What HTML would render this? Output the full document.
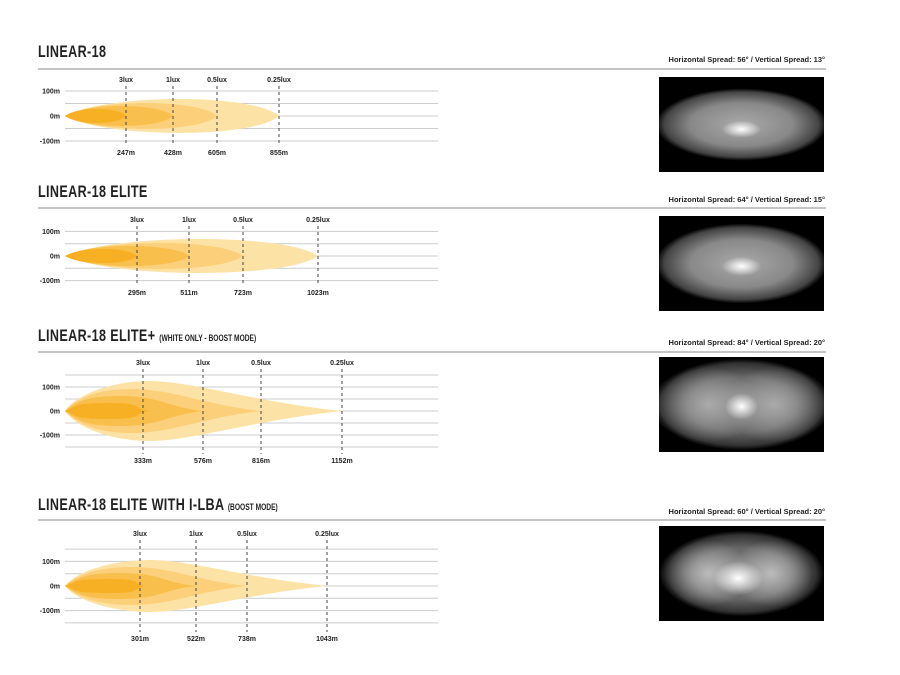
<!DOCTYPE html>
<html><head><meta charset="utf-8"><style>
body{margin:0;background:#fff;width:900px;height:675px;overflow:hidden;font-family:"Liberation Sans",sans-serif}
.t{position:absolute;left:38px;font-size:17px;font-weight:bold;color:#222;transform-origin:0 0;transform:scaleX(0.74);white-space:nowrap;letter-spacing:0.5px}
.t small{font-size:9px;font-weight:bold;letter-spacing:0}
.sp{position:absolute;right:75px;font-size:7.5px;font-weight:bold;color:#222;white-space:nowrap}
.im{position:absolute;left:659px;width:165px;height:95px;background:#000}
</style></head><body>
<svg id="s" width="900" height="675" style="position:absolute;left:0;top:0" font-family="Liberation Sans,sans-serif"></svg>
<div class="t" style="top:42px">LINEAR-18</div>
<div class="t" style="top:182px">LINEAR-18 ELITE</div>
<div class="t" style="top:326px">LINEAR-18 ELITE+ <small>(WHITE ONLY - BOOST MODE)</small></div>
<div class="t" style="top:495px">LINEAR-18 ELITE WITH I-LBA <small>(BOOST MODE)</small></div>
<div class="sp" style="top:55px">Horizontal Spread: 56° / Vertical Spread: 13°</div>
<div class="sp" style="top:195px">Horizontal Spread: 64° / Vertical Spread: 15°</div>
<div class="sp" style="top:338px">Horizontal Spread: 84° / Vertical Spread: 20°</div>
<div class="sp" style="top:507px">Horizontal Spread: 60° / Vertical Spread: 20°</div>
<div class="im" style="top:77px;background:radial-gradient(ellipse 12% 9% at 50% 55%,#fff,rgba(255,255,255,0) 100%),radial-gradient(ellipse 52% 38% at 50% 50%,#aaa 0%,#888 60%,#444 90%,#000 100%)"></div>
<div class="im" style="top:216px;background:radial-gradient(ellipse 12% 10% at 50% 53%,#fff,rgba(255,255,255,0) 100%),radial-gradient(ellipse 52% 42% at 50% 50%,#aaa 0%,#888 60%,#444 90%,#000 100%)"></div>
<div class="im" style="top:357px;background:radial-gradient(ellipse 10% 14% at 50% 52%,#fff,rgba(255,255,255,0) 100%),radial-gradient(ellipse 30% 40% at 30% 50%,#aaa,rgba(0,0,0,0) 100%),radial-gradient(ellipse 30% 40% at 70% 50%,#aaa,rgba(0,0,0,0) 100%),radial-gradient(ellipse 55% 48% at 50% 50%,#888 0%,#666 60%,#333 90%,#000 100%)"></div>
<div class="im" style="top:526px;background:radial-gradient(ellipse 15% 18% at 48% 55%,#fff,rgba(255,255,255,0) 100%),radial-gradient(ellipse 25% 35% at 30% 50%,#bbb,rgba(0,0,0,0) 100%),radial-gradient(ellipse 25% 35% at 68% 50%,#bbb,rgba(0,0,0,0) 100%),radial-gradient(ellipse 50% 45% at 50% 50%,#888 0%,#666 60%,#333 90%,#000 100%)"></div>
<script>
var s=document.getElementById('s'),h='';
var cols=['#fde2a6','#fcd07a','#f9bf4c','#f7b024'];
function line(x1,y1,x2,y2,c,w,d){h+='<line x1="'+x1+'" y1="'+y1+'" x2="'+x2+'" y2="'+y2+'" stroke="'+c+'" stroke-width="'+(w||1)+'"'+(d?' stroke-dasharray="'+d+'"':'')+'/>';}
function txt(x,y,t,a){h+='<text x="'+x+'" y="'+y+'" font-size="7" font-weight="bold" fill="#222" text-anchor="'+(a||'middle')+'">'+t+'</text>';}
function lens(x0,x1,cy,r,c){r=r*1.33;var L=x1-x0;h+='<path fill="'+c+'" d="M'+x0+','+cy+' C'+(x0+L*.2)+','+(cy-r)+' '+(x1-L*.12)+','+(cy-r)+' '+x1+','+cy+' C'+(x1-L*.12)+','+(cy+r)+' '+(x0+L*.2)+','+(cy+r)+' '+x0+','+cy+'Z"/>';}
function boost(x0,xp,x1,cy,r,c){
 var p='M'+x0+','+cy+' C'+(x0+12)+','+(cy-r*0.6)+' '+(xp-35)+','+(cy-r)+' '+xp+','+(cy-r)+' C'+(xp+40)+','+(cy-r)+' '+(x1-(x1-xp)*0.45)+','+(cy-r*0.3)+' '+x1+','+cy+
 ' C'+(x1-(x1-xp)*0.45)+','+(cy+r*0.3)+' '+(xp+40)+','+(cy+r)+' '+xp+','+(cy+r)+' C'+(xp-35)+','+(cy+r)+' '+(x0+12)+','+(cy+r*0.6)+' '+x0+','+cy+'Z';
 h+='<path fill="'+c+'" d="'+p+'"/>';}
function sec(cy,step,lines,luxY,xs,ds,distY,rule,kind){
 line(38,rule,826,rule,'#888',1);
 for(var i=-lines;i<=lines;i++)line(65,cy+i*step,438,cy+i*step,'#ccc',1);
 txt(60,cy-2*step+2.5,'100m','end');txt(60,cy+2.5,'0m','end');txt(60,cy+2*step+2.5,'-100m','end');
 if(kind==0){var r=[17,13,10,7];lens(65,xs[3],cy,r[0],cols[0]);lens(65,xs[2],cy,r[1],cols[1]);lens(65,xs[1],cy,r[2],cols[2]);lens(65,xs[0],cy,r[3],cols[3]);}
 else{var R=kind==1?[30,22,15,8]:[26,19,13,7];
  boost(65,150,xs[3],cy,R[0],cols[0]);boost(65,132,xs[2],cy,R[1],cols[1]);boost(65,120,xs[1],cy,R[2],cols[2]);boost(65,108,xs[0]+6,cy,R[3],cols[3]);}
 var lux=['3lux','1lux','0.5lux','0.25lux'];
 for(var j=0;j<4;j++){line(xs[j],luxY+4,xs[j],distY-9,'#444',1,'3,3');txt(xs[j],luxY,lux[j]);txt(xs[j],distY,ds[j]);}
}
sec(116,12.5,2,82,[126,173,217,279],['247m','428m','605m','855m'],155,69,0);
sec(256,12.3,2,222,[137,189,243,318],['295m','511m','723m','1023m'],295,208,0);
sec(411,12,3,365,[143,203,261,342],['333m','576m','816m','1152m'],463,352,1);
sec(586,12.3,3,536,[140,196,247,327],['301m','522m','738m','1043m'],641,520,2);
s.innerHTML=h;
</script>
</body></html>
